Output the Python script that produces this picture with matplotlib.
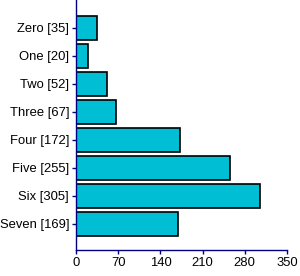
import matplotlib
matplotlib.use("Agg")
import matplotlib.pyplot as plt

categories = ["Zero", "One", "Two", "Three", "Four", "Five", "Six", "Seven"]
values = [35, 20, 52, 67, 172, 255, 305, 169]
xticks = [0, 70, 140, 210, 280, 350]

plt.rcParams['font.family'] = ['Liberation Sans', 'DejaVu Sans']
fig = plt.figure(figsize=(3.0, 2.76), dpi=100)
ax = fig.add_axes([76/300, 26/276, 211/300, 250/276])

labels = [f"{c} [{v}]" for c, v in zip(categories, values)]
pos = list(range(len(values)))
ax.barh(pos, values, height=0.86, color='#00BED4', edgecolor='black', linewidth=1.2)
ax.set_yticks(pos)
ax.set_yticklabels(labels)
ax.set_ylim(7.93, -1)
ax.set_xlim(0, 350)
ax.set_xticks(xticks)
ax.set_xticklabels([str(t) for t in xticks])
for s in ['top', 'right']:
    ax.spines[s].set_visible(False)
for s in ['left', 'bottom']:
    ax.spines[s].set_color('#000080')
    ax.spines[s].set_linewidth(1.0)
ax.tick_params(axis='both', colors='#000080', labelcolor='black', labelsize=9.4, length=3, width=1, pad=2)
fig.savefig("out.png", dpi=100)
